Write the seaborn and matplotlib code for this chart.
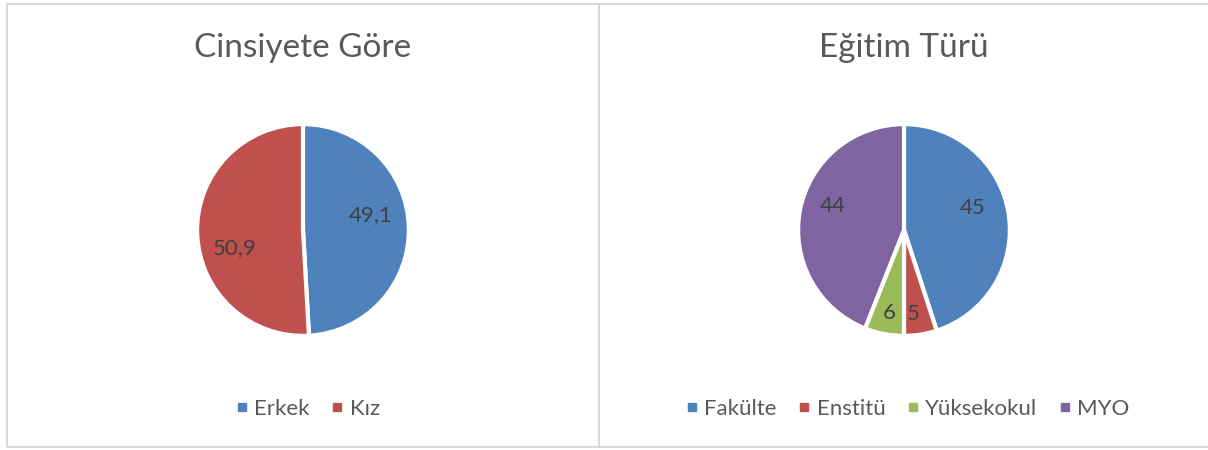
import matplotlib
matplotlib.use("Agg")
import matplotlib.pyplot as plt
from matplotlib.lines import Line2D
from matplotlib.patches import Rectangle
import numpy as np
import seaborn as sns

# ---- data ----
gender_labels = ["Erkek", "Kız"]
gender_values = [49.1, 50.9]
gender_text = ["49,1", "50,9"]

edu_labels = ["Fakülte", "Enstitü", "Yüksekokul", "MYO"]
edu_values = [45, 5, 6, 44]
edu_text = ["45", "5", "6", "44"]

titles = ["Cinsiyete Göre", "Eğitim Türü"]

# ---- style ----
sns.set_theme(style="white")
plt.rcParams["font.family"] = ["Lato", "DejaVu Sans"]
palette = ["#4F81BD", "#C0504D", "#9BBB59", "#8064A2"]
title_color = "#595959"
label_color = "#404040"

W, H = 1208, 450
fig = plt.figure(figsize=(W / 100, H / 100), dpi=100)
fig.patch.set_facecolor("white")

def px_axes(cx, cy, r):
    return fig.add_axes([(cx - r) / W, 1 - (cy + r) / H, 2 * r / W, 2 * r / H])

# panel borders
border = "#D9D9D9"
fig.add_artist(Rectangle((7 / W, 1 - 447 / H), (1215 - 7) / W, (447 - 4) / H,
                         transform=fig.transFigure, fill=False, edgecolor=border, lw=1.5))
fig.add_artist(Line2D([599 / W, 599 / W], [1 - 447 / H, 1 - 4 / H],
                      transform=fig.transFigure, color=border, lw=1.5))

def draw_pie(cx, cy, values, texts, labels, colors, radii, offsets, title, leg_cx):
    ax = px_axes(cx, cy, 108)
    wedges, _ = ax.pie(values, colors=colors, startangle=90, counterclock=False,
                       radius=1.0, wedgeprops=dict(edgecolor="white", linewidth=3))
    for w, t, rr, off in zip(wedges, texts, radii, offsets):
        ang = np.deg2rad((w.theta1 + w.theta2) / 2 + off)
        ax.text(rr * np.cos(ang), rr * np.sin(ang), t, ha="center", va="center",
                fontsize=16, color=label_color)
    ax.set_xlim(-1.02, 1.02)
    ax.set_ylim(-1.02, 1.02)
    ax.set_aspect("equal")
    ax.axis("off")
    fig.text(cx / W, 1 - 48 / H, title, ha="center", va="center",
             fontsize=24, color=title_color)
    handles = [Line2D([], [], marker="s", linestyle="none", markersize=6,
                      markerfacecolor=c, markeredgecolor=c) for c in colors]
    fig.legend(handles, labels, loc="center", bbox_to_anchor=(leg_cx / W, 1 - 409 / H),
               ncol=len(labels), frameon=False, fontsize=16, handletextpad=0.3,
               columnspacing=1.0, handlelength=0.5, labelcolor=title_color)

draw_pie(303, 230, gender_values, gender_text, gender_labels, palette[:2],
         [0.65, 0.67], [11, 13], titles[0], 308)
draw_pie(904, 230, edu_values, edu_text, edu_labels, palette,
         [0.68, 0.80, 0.80, 0.71], [9, -3, 1, -8], titles[1], 908)

fig.savefig("out.png", dpi=100, facecolor="white")
